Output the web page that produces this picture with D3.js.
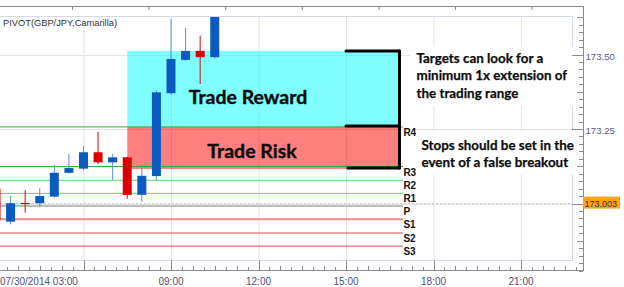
<!DOCTYPE html>
<html>
<head>
<meta charset="utf-8">
<script src="https://cdn.jsdelivr.net/npm/d3@7"></script>
<style>
  body { margin: 0; background: #fff; }
  svg { display: block; }
</style>
</head>
<body>
<svg id="chart" width="624" height="287"></svg>
<script>
// velas de 30 minutos, GBP/JPY 07/30/2014
const times = ["03:00","03:30","04:00","04:30","05:00","05:30","06:00","06:30",
               "07:00","07:30","08:00","08:30","09:00","09:30","10:00","10:30"];
const open  = [173.049,172.939,173.002,173.001,173.023,173.103,173.117,173.172,
               173.138,173.155,173.029,173.092,173.370,173.482,173.512,173.491];
const high  = [173.060,173.026,173.045,173.051,173.129,173.166,173.193,173.240,
               173.166,173.157,173.120,173.379,173.619,173.589,173.563,173.700];
const low   = [172.930,172.930,172.969,172.987,173.020,173.100,173.112,173.132,
               173.079,173.016,173.006,173.079,173.365,173.478,173.401,173.485];
const close = [172.945,173.001,173.000,173.025,173.103,173.119,173.172,173.138,
               173.155,173.029,173.093,173.373,173.485,173.512,173.491,173.680];

// niveles pivot (Camarilla)
const pivotNames  = ["R4","R3","R2","R1","P","S1","S2","S3"];
const pivotValues = [173.257,173.124,173.078,173.034,172.992,172.947,172.901,172.857];

const yTicks = [173.00, 173.25, 173.50];
const xTicks = ["03:00","06:00","09:00","12:00","15:00","18:00","21:00"];
const xLabels = ["07/30/2014 03:00","","09:00","12:00","15:00","18:00","21:00"];
const currentPrice = 173.003;

// zonas de recompensa / riesgo
const rewardZone = { from: "07:30", to: "16:50", top: 173.512, bottom: 173.257 };
const riskZone   = { from: "07:30", to: "16:50", top: 173.257, bottom: 173.116 };

const parse = d3.timeParse("%H:%M");
const svg = d3.select("#chart");

const x = d3.scaleTime().domain([parse("03:00"), parse("21:00")]).range([-4, 521]);
const y = d3.scaleLinear().domain([173.25, 173.50]).range([129, 54.5]);

const frame = { left: 0, top: 16, right: 572, bottom: 260.5 };
const axisX = 583, axisY = 270;

svg.append("defs").append("clipPath").attr("id", "plot")
  .append("rect")
  .attr("x", frame.left).attr("y", frame.top)
  .attr("width", frame.right - frame.left).attr("height", frame.bottom - frame.top);

// ejes de arriba (panel superior cortado)
svg.append("line").attr("x1", 0).attr("x2", axisX).attr("y1", 6.5).attr("y2", 6.5)
  .attr("stroke", "#8a8a8a");
svg.selectAll(".topTick").data(d3.range(0, 7)).enter().append("line")
  .attr("x1", d => 72.5 + d * 76.6).attr("x2", d => 72.5 + d * 76.6)
  .attr("y1", 6.5).attr("y2", 10).attr("stroke", "#8a8a8a");

const plot = svg.append("g").attr("clip-path", "url(#plot)");

// grilla
plot.selectAll(".vgrid").data(xTicks).enter().append("line")
  .attr("x1", d => x(parse(d)) + 0.5).attr("x2", d => x(parse(d)) + 0.5)
  .attr("y1", frame.top).attr("y2", frame.bottom)
  .attr("stroke", "#e3e3e3");
plot.selectAll(".hgrid").data(yTicks).enter().append("line")
  .attr("x1", 0).attr("x2", frame.right)
  .attr("y1", d => Math.round(y(d)) + 0.5).attr("y2", d => Math.round(y(d)) + 0.5)
  .attr("stroke", "#e3e3e3");

// zonas
[[rewardZone, "#00ffff"], [riskZone, "#ff0000"]].forEach(function([z, c]) {
  plot.append("rect")
    .attr("x", x(parse(z.from)))
    .attr("y", y(z.top))
    .attr("width", x(parse(z.to)) - x(parse(z.from)))
    .attr("height", y(z.bottom) - y(z.top))
    .attr("fill", c).attr("fill-opacity", 0.5);
});

// linea de precio actual
plot.append("line").attr("x1", 0).attr("x2", frame.right)
  .attr("y1", Math.round(y(currentPrice)) + 0.5).attr("y2", Math.round(y(currentPrice)) + 0.5)
  .attr("stroke", "#cccccc").attr("stroke-dasharray", "2,2");

// lineas pivot
const pivotColor = ["#33b033","#2eaa2e","#55dd55","#55dd55","#bdbdbd","#f28a8a","#e04a4a","#e04a4a"];
const pivotWidth = [1, 1, 1, 1, 2, 2, 1, 1];
const pivotEnd = x(parse("16:57"));
plot.selectAll(".pivot").data(pivotValues).enter().append("line")
  .attr("x1", 0).attr("x2", pivotEnd)
  .attr("y1", d => y(d)).attr("y2", d => y(d))
  .attr("stroke", (d, i) => pivotColor[i])
  .attr("stroke-width", (d, i) => pivotWidth[i]);

// velas
const candles = times.map((t, i) => ({
  t: parse(t), o: open[i], h: high[i], l: low[i], c: close[i]
}));
const half = 4.5;
const up = d => d.c >= d.o;

plot.selectAll(".wick").data(candles).enter().append("line")
  .attr("x1", d => x(d.t)).attr("x2", d => x(d.t))
  .attr("y1", d => y(d.h)).attr("y2", d => y(d.l))
  .attr("stroke", d => up(d) ? "#5b8fd8" : "#e00000");

plot.selectAll(".body").data(candles).enter().append("rect")
  .attr("x", d => x(d.t) - half)
  .attr("y", d => y(Math.max(d.o, d.c)))
  .attr("width", half * 2)
  .attr("height", d => Math.max(1.2, Math.abs(y(d.o) - y(d.c))))
  .attr("fill", d => up(d) ? "#0a5bbf" : "#dd0000");

// corchete negro
const br = svg.append("g").attr("stroke", "#000").attr("stroke-width", 3)
  .attr("stroke-linecap", "round");
const bx0 = x(parse("15:00")), bx1 = x(parse("16:50"));
br.append("line").attr("x1", bx0).attr("x2", bx1)
  .attr("y1", y(rewardZone.top)).attr("y2", y(rewardZone.top));
br.append("line").attr("x1", bx0).attr("x2", bx1)
  .attr("y1", y(rewardZone.bottom) - 1).attr("y2", y(rewardZone.bottom) - 1);
br.append("line").attr("x1", bx0 + 2).attr("x2", bx1)
  .attr("y1", y(riskZone.bottom) - 1).attr("y2", y(riskZone.bottom) - 1);
br.append("line").attr("x1", bx1).attr("x2", bx1)
  .attr("y1", y(rewardZone.top)).attr("y2", y(riskZone.bottom) - 1);

// etiquetas pivot
svg.selectAll(".plabel").data(pivotValues).enter().append("text")
  .attr("x", pivotEnd + 0.5).attr("y", d => y(d) + 9)
  .attr("font-family", "Liberation Sans, Arial, sans-serif")
  .attr("font-size", 10).attr("font-weight", "bold").attr("fill", "#111")
  .text((d, i) => pivotNames[i]);

// marco
svg.append("path")
  .attr("d", `M${frame.left},${frame.top + 0.5}H${frame.right + 0.5}V${frame.bottom}H${frame.left}`)
  .attr("fill", "none").attr("stroke", "#d2d9e4");

// cajas blancas de texto
svg.append("rect").attr("x", 410).attr("y", 47).attr("width", 168).attr("height", 59).attr("fill", "#fff");
svg.append("rect").attr("x", 416).attr("y", 131).attr("width", 162).attr("height", 44).attr("fill", "#fff");

const note = { "font-family": "Lato, 'Open Sans', sans-serif", "font-weight": "bold",
               "fill": "#0d0d0d", "stroke": "#0d0d0d", "stroke-width": 0.25 };
function addText(str, px, py, size, anchor) {
  const t = svg.append("text").attr("x", px).attr("y", py)
    .attr("font-size", size).attr("text-anchor", anchor || "start").text(str);
  Object.entries(note).forEach(([k, v]) => t.attr(k, v));
  return t;
}
addText("Trade Reward", 248, 104, 19.5, "middle").attr("stroke-width", 0.4);
addText("Trade Risk", 252, 158, 19.5, "middle").attr("stroke-width", 0.4);
addText("Targets can look for a", 416.5, 62.5, 13.4);
addText("minimum 1x extension of", 416.5, 80, 13.4);
addText("the trading range", 416.5, 97.5, 13.4);
addText("Stops should be set in the", 421.5, 149.5, 13.4);
addText("event of a false breakout", 421.5, 166.5, 13.4);

svg.append("text").attr("x", 3).attr("y", 26)
  .attr("font-family", "Liberation Sans, Arial, sans-serif")
  .attr("font-size", 9.3).attr("fill", "#333")
  .text("PIVOT(GBP/JPY,Camarilla)");

// eje derecho
svg.append("line").attr("x1", axisX + 0.5).attr("x2", axisX + 0.5).attr("y1", 6).attr("y2", axisY + 0.5)
  .attr("stroke", "#8a8a8a");
const minorY = d3.range(172.775, 173.64, 0.025);
svg.selectAll(".ymin").data(minorY).enter().append("line")
  .attr("x1", d => {
    const m = Math.round(d * 1000);
    return m % 250 === 0 ? 572 : (m % 125 === 0 ? 577 : 579);
  })
  .attr("x2", axisX)
  .attr("y1", d => Math.round(y(d)) + 0.5).attr("y2", d => Math.round(y(d)) + 0.5)
  .attr("stroke", "#8a8a8a");
svg.selectAll(".ylabel").data(yTicks.filter(d => d !== 173.00)).enter().append("text")
  .attr("x", 585.5).attr("y", d => y(d) + 5)
  .attr("font-family", "Liberation Sans, Arial, sans-serif")
  .attr("font-size", 9.6).attr("fill", "#5a5a8c")
  .text(d => d.toFixed(2));

// etiqueta naranja del precio actual
svg.append("rect").attr("x", axisX).attr("y", y(currentPrice) - 6).attr("width", 37).attr("height", 12)
  .attr("fill", "#ffa31a");
svg.append("text").attr("x", 584.5).attr("y", y(currentPrice) + 4)
  .attr("font-family", "Liberation Sans, Arial, sans-serif")
  .attr("font-size", 9).attr("fill", "#3a3020")
  .text(currentPrice.toFixed(3));

// eje inferior
svg.append("line").attr("x1", 0).attr("x2", axisX + 1).attr("y1", axisY + 0.5).attr("y2", axisY + 0.5)
  .attr("stroke", "#8a8a8a");
const t0 = parse("03:00").getTime();
const minorX = d3.range(0, 20 * 8 + 1).map(i => new Date(t0 + i * 22.5 * 60000));
svg.selectAll(".xmin").data(minorX.filter(d => x(d) < axisX)).enter().append("line")
  .attr("x1", d => Math.round(x(d)) + 0.5).attr("x2", d => Math.round(x(d)) + 0.5)
  .attr("y1", (d, i) => i % 8 === 0 ? frame.bottom : (i % 2 === 0 ? 266 : 267))
  .attr("y2", axisY)
  .attr("stroke", "#8a8a8a");
svg.selectAll(".xlabel").data(xTicks).enter().append("text")
  .attr("x", (d, i) => i === 0 ? 0 : x(parse(d)))
  .attr("y", 285)
  .attr("text-anchor", (d, i) => i === 0 ? "start" : "middle")
  .attr("font-family", "Liberation Sans, Arial, sans-serif")
  .attr("font-size", 10).attr("fill", "#50507c")
  .text((d, i) => xLabels[i]);
</script>
</body>
</html>
